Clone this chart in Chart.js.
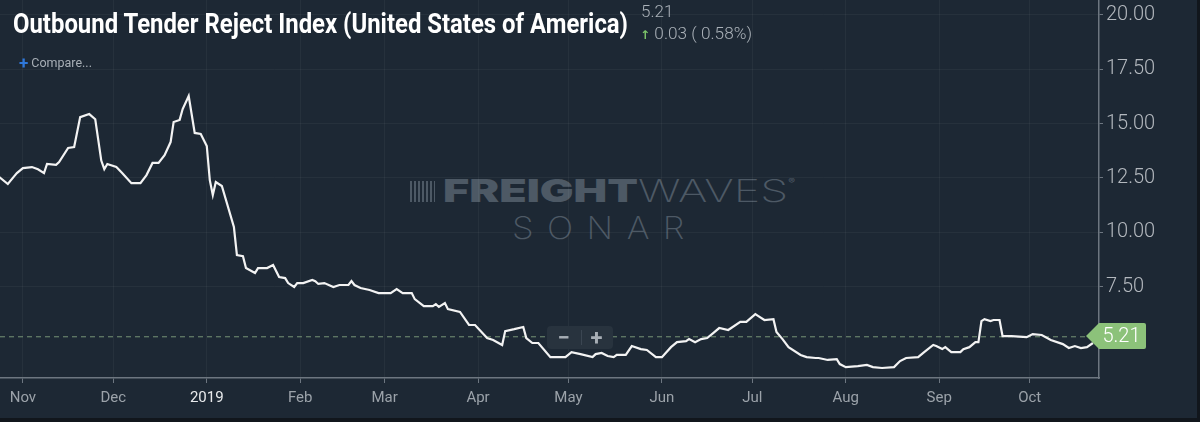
<!DOCTYPE html>
<html>
<head>
<meta charset="utf-8">
<script src="https://cdn.jsdelivr.net/npm/chart.js@4.4.1/dist/chart.umd.min.js"></script>
<style>
  body { margin: 0; background: #11161c; }
  #wrap { position: relative; width: 1197px; height: 418px; background: #1d2834; overflow: hidden; font-family: Roboto, sans-serif; }
  #chart { position: absolute; left: 0; top: 0; }
  .abs { position: absolute; white-space: nowrap; line-height: 1; transform-origin: 0 0; }
  #title { left: 13px; top: 10px; font-size: 28px; font-weight: 700; color: #ffffff; }
  #last { left: 641px; top: 3px; font-size: 17px; font-weight: 300; color: #aab1b8; }
  #chg { left: 640px; top: 25px; font-size: 17px; font-weight: 300; color: #aab1b8; }
  #chg .arr { color: #7cc46a; font-size: 12px; font-family: "DejaVu Sans"; font-weight: 700; }
  #compare { left: 19px; top: 55px; font-size: 12.5px; color: #a8afb6; }
  #compare b { color: #2f78da; font-size: 17px; font-weight: 700; vertical-align: -2px; margin-right: 3px; }
  #wm1 { left: 443px; top: 175px; font-size: 31px; color: #4d5965; font-family: Inter, sans-serif; }
  #wm1 .b { font-weight: 900; }
  #wm1 .l { font-weight: 200; }
  #wm1 sup { font-size: 7px; vertical-align: 18px; }
  #icon { position: absolute; left: 410px; top: 181px; width: 25px; height: 21px;
          background: repeating-linear-gradient(90deg, #4d5965 0 2px, transparent 2px 4px); }
  #wm2 { left: 512px; top: 212px; font-size: 31px; font-weight: 200; color: #4d5965; font-family: Inter, sans-serif; letter-spacing: 12px; }
  #zoomBox { position: absolute; left: 547px; top: 326px; width: 66px; height: 23px; background: #28333e; border-radius: 4px;
             color: #a7aeb5; font-size: 22px; font-weight: 700; }
  #zoomBox span { position: absolute; top: -1px; width: 33px; text-align: center; }
  #zoomBox i { position: absolute; left: 34px; top: 4px; width: 1px; height: 15px; background: #3b4652; }
</style>
</head>
<body>
<div id="wrap">
  <div id="icon"></div>
  <div id="wm1" class="abs"><span class="b">FREIGHT</span><span class="l">WAVES</span><sup>®</sup></div>
  <div id="wm2" class="abs">SONAR</div>
  <canvas id="chart" width="1197" height="418"></canvas>
  <div id="title" class="abs">Outbound Tender Reject Index (United States of America)</div>
  <div id="last" class="abs"></div>
  <div id="chg" class="abs"></div>
  <div id="compare" class="abs"><b>+</b>Compare...</div>
  <div id="zoomBox"><span style="left:0">−</span><i></i><span style="left:33px">+</span></div>
</div>
<script>
// Days counted from 1 Nov 2018
const days = [-8, -5, -3, -2, 0, 3, 5, 7, 8, 11, 12, 15, 17, 19, 22, 24, 26, 27, 28, 31,
  33, 36, 39, 41, 43, 45, 47, 49, 50, 52, 53, 55, 57, 59, 61, 62, 63, 64, 66, 70,
  71, 73, 74, 77, 78, 81, 83, 85, 87, 88, 90, 91, 93, 96, 97, 98, 100, 103, 105, 108,
  109, 110, 112, 115, 118, 122, 124, 126, 129, 130, 133, 136, 137, 138, 140, 141, 145, 148, 150, 154,
  156, 159, 160, 163, 166, 167, 169, 171, 175, 180, 182, 185, 189, 190, 192, 194, 196, 197, 200, 202,
  205, 207, 210, 212, 215, 217, 220, 221, 223, 225, 227, 229, 231, 234, 238, 240, 243, 244, 246, 249,
  250, 252, 254, 258, 260, 263, 264, 267, 270, 271, 273, 277, 280, 282, 285, 289, 291, 293, 297, 299,
  302, 303, 305, 306, 308, 311, 312, 314, 316, 317, 318, 319, 321, 322, 324, 325, 328, 333, 335, 338,
  341, 345, 347, 349, 351, 353, 355];
const values = [12.56, 12.22, 12.56, 12.72, 12.95, 13.0, 12.9, 12.72, 13.14, 13.1, 13.23, 13.88, 13.92, 15.3, 15.44, 15.2, 13.3, 12.9, 13.14, 13.0,
  12.72, 12.26, 12.26, 12.63, 13.19, 13.19, 13.55, 14.15, 15.07, 15.17, 15.67, 16.27, 14.57, 14.52, 13.97, 12.4, 11.71, 12.31, 12.13, 10.24,
  8.95, 8.9, 8.35, 8.12, 8.35, 8.35, 8.49, 7.94, 7.89, 7.66, 7.48, 7.66, 7.66, 7.8, 7.75, 7.62, 7.66, 7.48, 7.57, 7.57,
  7.75, 7.57, 7.43, 7.34, 7.2, 7.2, 7.38, 7.2, 7.2, 6.92, 6.6, 6.6, 6.69, 6.56, 6.74, 6.46, 6.33, 5.73, 5.73, 5.13,
  5.04, 4.81, 5.45, 5.54, 5.64, 5.13, 4.9, 4.9, 4.25, 4.25, 4.48, 4.39, 4.25, 4.39, 4.44, 4.3, 4.25, 4.35, 4.35, 4.76,
  4.62, 4.58, 4.25, 4.25, 4.71, 4.94, 4.99, 5.08, 4.94, 5.08, 5.13, 5.36, 5.59, 5.5, 5.87, 5.87, 6.23, 6.14, 5.96, 6.0,
  5.41, 5.08, 4.71, 4.35, 4.25, 4.21, 4.21, 4.12, 4.16, 3.93, 3.79, 3.84, 3.89, 3.79, 3.75, 3.79, 4.07, 4.21, 4.25, 4.48,
  4.81, 4.76, 4.62, 4.71, 4.48, 4.48, 4.62, 4.71, 4.94, 4.94, 5.91, 6.0, 5.91, 5.96, 5.96, 5.22, 5.22, 5.17, 5.31, 5.27,
  5.04, 4.85, 4.67, 4.76, 4.67, 4.71, 4.9];

const monthDays = [0, 30, 61, 92, 120, 151, 181, 212, 242, 273, 304, 334];
const monthLabels = ['Nov', 'Dec', '2019', 'Feb', 'Mar', 'Apr', 'May', 'Jun', 'Jul', 'Aug', 'Sep', 'Oct'];
const yTicks = [7.5, 10, 12.5, 15, 17.5, 20];

const currentValue = 5.21;
const change = 0.03;
const changePct = 0.58;

// header texts
document.getElementById('last').textContent = currentValue.toFixed(2);
document.getElementById('chg').innerHTML = '<span class="arr">↑</span> ' + change.toFixed(2) + ' ( ' + changePct.toFixed(2) + '%)';

// squeeze text into the width seen in the picture
function fitWidth(id, w) {
    const el = document.getElementById(id);
    const cur = el.getBoundingClientRect().width;
    el.style.transform = 'scaleX(' + (w / cur) + ')';
}
fitWidth('title', 615);
fitWidth('chg', 112);
fitWidth('wm1', 352);
fitWidth('wm2', 186);

// dashed line + green price tag for the latest value
const priceTag = {
    id: 'priceTag',
    beforeDatasetsDraw(chart) {
        const ctx = chart.ctx;
        const y = chart.scales.y.getPixelForValue(currentValue);
        ctx.save();
        ctx.strokeStyle = 'rgba(150,185,140,0.75)';
        ctx.lineWidth = 1;
        ctx.setLineDash([5, 4]);
        ctx.beginPath();
        ctx.moveTo(chart.chartArea.left, y + 0.5);
        ctx.lineTo(chart.chartArea.right - 12, y + 0.5);
        ctx.stroke();
        ctx.restore();
    },
    afterDraw(chart) {
        const ctx = chart.ctx;
        const y = Math.round(chart.scales.y.getPixelForValue(currentValue));
        const tip = chart.chartArea.right - 13;
        const x0 = tip + 13, x1 = tip + 60, h = 13;
        ctx.save();
        ctx.fillStyle = '#8cc27a';
        ctx.beginPath();
        ctx.moveTo(tip, y);
        ctx.lineTo(x0, y - h);
        ctx.lineTo(x1 - 2, y - h);
        ctx.quadraticCurveTo(x1, y - h, x1, y - h + 2);
        ctx.lineTo(x1, y + h - 2);
        ctx.quadraticCurveTo(x1, y + h, x1 - 2, y + h);
        ctx.lineTo(x0, y + h);
        ctx.closePath();
        ctx.fill();
        ctx.fillStyle = '#ffffff';
        ctx.font = '300 20px Roboto';
        ctx.textAlign = 'center';
        ctx.textBaseline = 'middle';
        ctx.fillText(currentValue.toFixed(2), (x0 + x1) / 2 - 1, y + 1);
        ctx.restore();
    }
};

const ctx = document.getElementById('chart').getContext('2d');
const chart = new Chart(ctx, {
    type: 'line',
    data: {
        datasets: [{
            data: days.map((d, i) => ({ x: d, y: values[i] })),
            borderColor: '#f3f3f3',
            borderWidth: 2.2,
            pointRadius: 0,
            tension: 0,
            fill: false
        }]
    },
    options: {
        responsive: false,
        animation: false,
        layout: { padding: 0 },
        plugins: {
            legend: { display: false },
            tooltip: { enabled: false }
        },
        scales: {
            x: {
                type: 'linear',
                min: -7.6,
                max: 357,
                afterBuildTicks: s => { s.ticks = monthDays.map(v => ({ value: v })); },
                afterFit: s => { s.height = 40; s.paddingLeft = 0; s.paddingRight = 0; },
                ticks: {
                    autoSkip: false,
                    maxRotation: 0,
                    padding: 6,
                    color: c => c.index === 2 ? '#e8eaec' : '#9ba2a9',
                    font: { family: 'Roboto', size: 15 },
                    callback: (v, i) => monthLabels[i]
                },
                grid: { color: 'rgba(255,255,255,0.045)', tickColor: '#6d7680', tickLength: 5 },
                border: { color: '#6d7680', width: 1.5 }
            },
            y: {
                position: 'right',
                min: 3.29,
                max: 20.69,
                afterBuildTicks: s => { s.ticks = yTicks.map(v => ({ value: v })); },
                afterFit: s => { s.width = 98; s.paddingTop = 0; s.paddingBottom = 0; },
                ticks: {
                    padding: 3,
                    color: '#b3b8be',
                    font: { family: 'Roboto', size: 20, weight: '300' },
                    callback: v => v.toFixed(2)
                },
                grid: { color: 'rgba(255,255,255,0.045)', tickColor: '#6d7680', tickLength: 4 },
                border: { color: '#6d7680', width: 1.5 }
            }
        }
    },
    plugins: [priceTag]
});
</script>
</body>
</html>
